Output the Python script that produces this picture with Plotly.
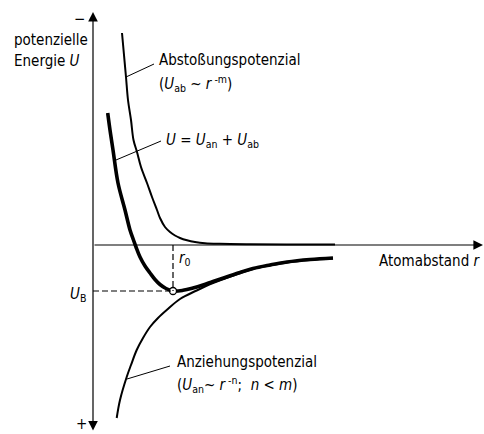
import plotly.graph_objects as go

# Atomic distance r and potential energy U (arbitrary units)
r_repulsive = [2.9, 3.1, 3.3, 3.5, 3.8, 4.05, 4.4, 4.8, 5.4, 5.9, 6.4, 6.7, 7.2, 7.7,
               8.2, 8.7, 9.4, 10.2, 11.2, 12.7, 15.7, 19.7, 24.2]
U_repulsive = [21.2, 19.0, 16.8, 14.5, 12.5, 10.5, 9.3, 7.8, 6.2, 4.8, 3.5, 2.7, 1.8, 1.3,
               0.95, 0.7, 0.47, 0.3, 0.18, 0.12, 0.08, 0.06, 0.05]

r_total = [1.47, 1.7, 2.0, 2.5, 3.2, 3.7, 4.05, 4.3, 4.7, 5.2, 5.7, 6.2, 6.7, 7.3, 8.0,
           9.0, 10.0, 11.0, 12.0, 13.2, 14.7, 16.0, 17.7, 19.4, 21.7, 24.0]
U_total = [13.2, 11.5, 9.5, 6.2, 3.5, 1.5, 0.5, -0.2, -1.2, -2.1, -2.8, -3.45, -3.95, -4.35,
           -4.6, -4.53, -4.3, -4.0, -3.65, -3.25, -2.75, -2.35, -2.0, -1.7, -1.45, -1.3]

r_attractive = [2.37, 2.7, 3.37, 3.8, 4.37, 5.0, 5.7, 6.5, 7.37, 8.7, 10.37, 12.0, 13.2,
                14.7, 16.0, 17.7, 19.4, 21.7, 24.0]
U_attractive = [-17.3, -15.5, -13.2, -12.0, -10.5, -9.3, -8.2, -7.3, -6.5, -5.4, -4.55, -3.8,
                -3.35, -2.82, -2.4, -2.05, -1.75, -1.5, -1.35]

# Equilibrium distance and binding energy
r0 = 8.0
U_B = -4.6

FONT = "DejaVu Sans Condensed, DejaVu Sans, sans-serif"
INK = "black"

fig = go.Figure()
fig.add_trace(go.Scatter(x=r_repulsive, y=U_repulsive, mode="lines",
                         line=dict(color=INK, width=2, shape="spline"), hoverinfo="skip"))
fig.add_trace(go.Scatter(x=r_attractive, y=U_attractive, mode="lines",
                         line=dict(color=INK, width=2, shape="spline"), hoverinfo="skip"))
fig.add_trace(go.Scatter(x=r_total, y=U_total, mode="lines",
                         line=dict(color=INK, width=3.6, shape="spline"), hoverinfo="skip"))

# dashed guides to the minimum
fig.add_shape(type="line", x0=r0, x1=r0, y0=0, y1=U_B,
              line=dict(color=INK, width=1.2, dash="6px,3px"))
fig.add_shape(type="line", x0=0, x1=r0, y0=U_B, y1=U_B,
              line=dict(color=INK, width=1.2, dash="6px,3px"))
fig.add_trace(go.Scatter(x=[r0], y=[U_B], mode="markers",
                         marker=dict(size=7, color="white", line=dict(color=INK, width=1.3)),
                         hoverinfo="skip"))

# axes with arrow heads
fig.add_annotation(x=39.0, y=0, ax=0, ay=0, xref="x", yref="y", axref="x", ayref="y",
                   text="", showarrow=True, arrowhead=2, arrowsize=1.6, arrowwidth=1.2,
                   arrowcolor=INK)
fig.add_annotation(x=0, y=23.3, ax=0, ay=-18.7, xref="x", yref="y", axref="x", ayref="y",
                   text="", showarrow=True, arrowhead=2, arrowsize=1.6, arrowwidth=1.2,
                   arrowside="end+start", arrowcolor=INK)

# leader lines to labels
for x0, y0, x1, y1 in [(3.3, 16.8, 6.1, 18.1), (2.3, 8.5, 6.8, 10.4), (3.4, -13.4, 7.7, -12.1)]:
    fig.add_shape(type="line", x0=x0, y0=y0, x1=x1, y1=y1, line=dict(color=INK, width=1))

labels = [
    (-8.1, 20.5, "potenzielle", "left"),
    (-8.1, 18.4, "Energie <i>U</i>", "left"),
    (-1.4, 22.6, "−", "center"),
    (-1.2, -17.9, "+", "center"),
    (6.4, 18.5, "Abstoßungspotenzial", "left"),
    (6.4, 16.2, "(<i>U</i><sub>ab</sub> ~ <i>r</i><sup> -m</sup>)", "left"),
    (7.1, 10.5, "<i>U</i> = <i>U</i><sub>an</sub> + <i>U</i><sub>ab</sub>", "left"),
    (8.4, -1.3, "<i>r</i><sub>0</sub>", "left"),
    (-0.5, -4.9, "<i>U</i><sub>B</sub>", "right"),
    (39.0, -1.6, "Atomabstand <i>r</i>", "right"),
    (8.2, -11.7, "Anziehungspotenzial", "left"),
    (8.2, -13.9, "(<i>U</i><sub>an</sub>~ <i>r</i><sup> -n</sup>;  <i>n</i> < <i>m</i>)", "left"),
]
for x, y, t, anchor in labels:
    fig.add_annotation(x=x, y=y, xref="x", yref="y", text=t, showarrow=False,
                       xanchor=anchor, yanchor="middle",
                       font=dict(family=FONT, size=15, color=INK))

fig.update_xaxes(range=[-9.3, 39.1], visible=False)
fig.update_yaxes(range=[-18.9, 24.5], visible=False)
fig.update_layout(width=484, height=434, margin=dict(l=0, r=0, t=0, b=0),
                  paper_bgcolor="white", plot_bgcolor="white", showlegend=False)

fig.write_html("out.html")
